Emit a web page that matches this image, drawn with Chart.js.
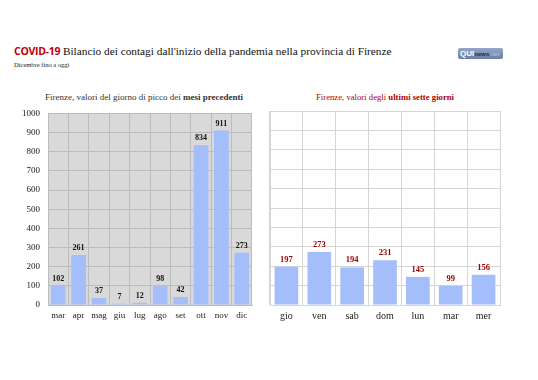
<!DOCTYPE html>
<html>
<head>
<meta charset="utf-8">
<style>
  body { margin: 0; width: 538px; height: 380px; background: #fff; position: relative; overflow: hidden; font-family: "Liberation Serif", serif; }
  .title { position: absolute; left: 14px; top: 44px; font-size: 11.3px; color: #111; white-space: nowrap; }
  .title b { font-family: "Open Sans", sans-serif; color: #c00000; font-weight: 700; font-size: 10.5px; letter-spacing: -0.3px; }
  .sub { position: absolute; left: 14px; top: 61px; font-size: 6.5px; color: #222; }
  .logo { position: absolute; left: 458px; top: 48px; width: 45px; height: 11px; border-radius: 2px; background: linear-gradient(#95a7c8, #6a7ea3); font-family: "Liberation Sans", sans-serif; font-size: 8px; line-height: 11px; color: #fff; font-weight: bold; padding-left: 2px; box-sizing: border-box; }
  .logo span { font-size: 6px; color: #1d2b4a; }
  .logo i { font-style: normal; font-size: 6px; color: #b8c6e0; font-weight: normal; }
  .ctitle { position: absolute; top: 92px; white-space: nowrap; transform: translateX(-50%); }
  .wrap { position: absolute; top: 100px; }
</style>
</head>
<body>
<div class="title"><b>COVID-19</b> Bilancio dei contagi dall'inizio della pandemia nella provincia di Firenze</div>
<div class="sub">Dicembre fino a oggi</div>
<div class="logo">QUI<span>news</span><i>.net</i></div>
<div class="ctitle" style="left:144px;color:#333;font-size:9px">Firenze, valori del giorno di picco dei <b>mesi precedenti</b></div>
<div class="ctitle" style="left:385px;color:#b00000;font-size:8.7px">Firenze, valori degli <b>ultimi sette giorni</b></div>
<div class="wrap" style="left:0px"><canvas id="monthChart" width="260" height="225"></canvas></div>
<div class="wrap" style="left:262px"><canvas id="weekChart" width="250" height="225"></canvas></div>

<script src="https://cdn.jsdelivr.net/npm/chart.js"></script>
<script>
    const months = ["mar", "apr", "mag", "giu", "lug", "ago", "set", "ott", "nov", "dic"];
    const monthPeaks = [102, 261, 37, 7, 12, 98, 42, 834, 911, 273];
    const days = ["gio", "ven", "sab", "dom", "lun", "mar", "mer"];
    const dayValues = [197, 273, 194, 231, 145, 99, 156];
    const yTicks = [0, 100, 200, 300, 400, 500, 600, 700, 800, 900, 1000];

    const barColor = "#a4bdfb";

    // grey plot background for the left chart
    const plotBg = {
        id: "plotBg",
        beforeDraw(chart, args, opts) {
            const a = chart.chartArea;
            chart.ctx.save();
            chart.ctx.fillStyle = opts.color;
            chart.ctx.fillRect(a.left, a.top, a.right - a.left, a.bottom - a.top);
            chart.ctx.restore();
        }
    };

    // numbers above the bars
    const barValues = {
        id: "barValues",
        afterDatasetsDraw(chart, args, opts) {
            const ctx = chart.ctx;
            const data = chart.data.datasets[0].data;
            ctx.save();
            ctx.font = "bold " + opts.size + "px 'Liberation Serif', serif";
            ctx.fillStyle = opts.color;
            ctx.textAlign = "center";
            ctx.textBaseline = "bottom";
            chart.getDatasetMeta(0).data.forEach((bar, i) => {
                ctx.fillText(data[i], bar.x, bar.y - 3);
            });
            ctx.restore();
        }
    };

    function renderChart(canvasId, labels, values, opt) {
        const ctx = document.getElementById(canvasId).getContext("2d");
        return new Chart(ctx, {
            type: "bar",
            data: {
                labels: labels,
                datasets: [{
                    data: values,
                    backgroundColor: barColor,
                    categoryPercentage: 0.72,
                    barPercentage: 1
                }]
            },
            options: {
                responsive: false,
                animation: false,
                layout: { padding: opt.padding },
                plugins: {
                    legend: { display: false },
                    tooltip: { enabled: false },
                    plotBg: { color: opt.bg },
                    barValues: { color: opt.labelColor, size: opt.labelSize }
                },
                scales: {
                    x: {
                        grid: { color: opt.grid, offset: true, drawTicks: false },
                        border: { color: opt.grid },
                        ticks: {
                            color: "#222", font: { family: "Liberation Serif", size: opt.xFont }, padding: 5,
                            autoSkip: false, maxRotation: 0, minRotation: 0
                        },
                        afterFit: s => { s.height = 20; }
                    },
                    y: {
                        min: 0,
                        max: 1000,
                        afterBuildTicks: s => { s.ticks = yTicks.map(v => ({ value: v })); },
                        grid: { color: opt.grid, drawTicks: false },
                        border: { color: opt.grid },
                        ticks: {
                            display: opt.showY, color: "#222", font: { family: "Liberation Serif", size: 9 }, padding: 8,
                            callback: v => String(v)
                        },
                        afterFit: s => { s.width = opt.yWidth; }
                    }
                }
            },
            plugins: [plotBg, barValues]
        });
    }

    renderChart("monthChart", months, monthPeaks, {
        padding: { top: 12, right: 8, left: 0, bottom: 0 },
        bg: "#d9d9d9", grid: "#bcbcbc", labelColor: "#111", labelSize: 8,
        showY: true, yWidth: 48, xFont: 9
    });
    renderChart("weekChart", days, dayValues, {
        padding: { top: 11, right: 12, left: 8, bottom: 0 },
        bg: "#ffffff", grid: "#d6d6d6", labelColor: "#9b0000", labelSize: 8.5,
        showY: false, yWidth: 0, xFont: 10
    });
</script>
</body>
</html>
